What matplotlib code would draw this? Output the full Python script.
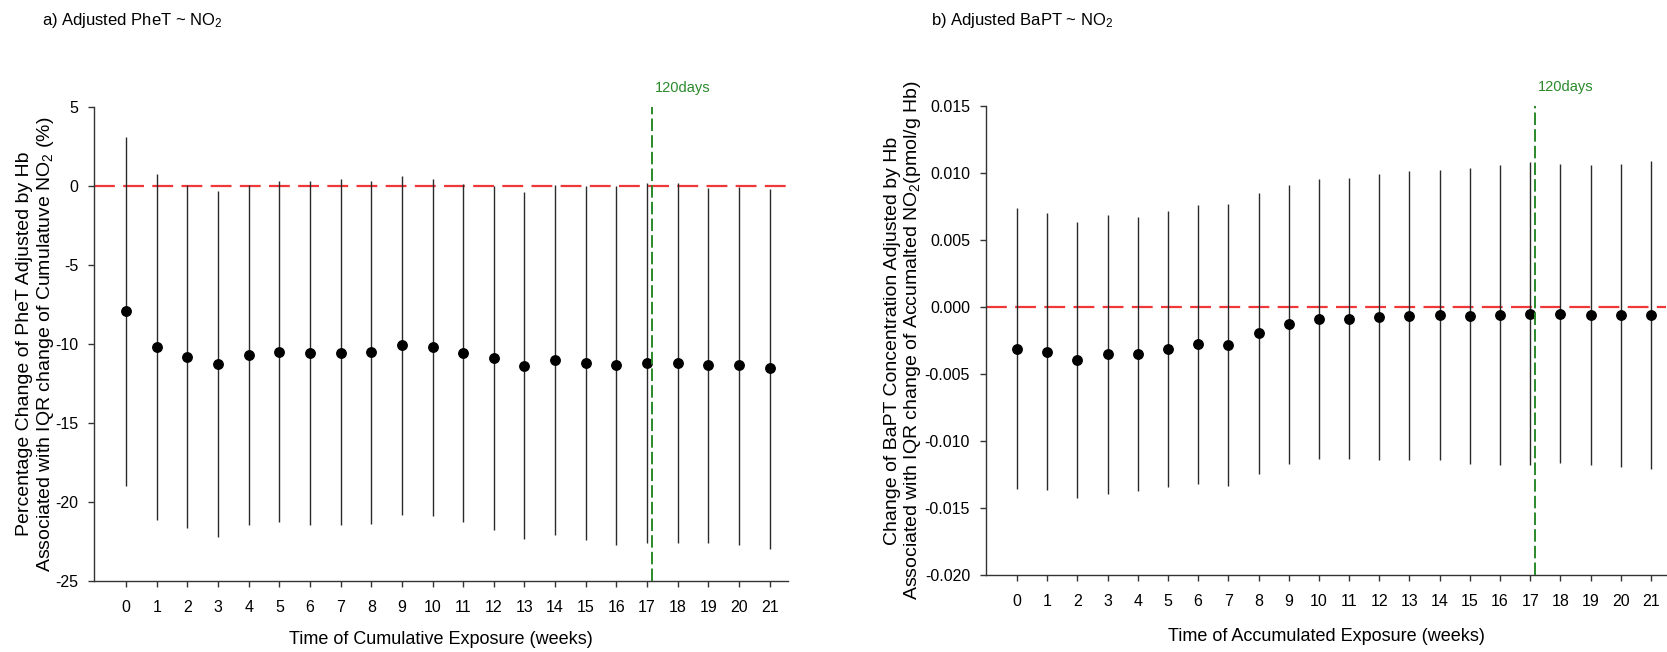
import matplotlib
matplotlib.use("Agg")
import matplotlib.pyplot as plt
import numpy as np

plt.rcParams['font.family'] = ['Liberation Sans', 'DejaVu Sans']
plt.rcParams['axes.unicode_minus'] = False
plt.rcParams['mathtext.fontset'] = 'custom'
plt.rcParams['mathtext.rm'] = 'Liberation Sans'
plt.rcParams['mathtext.it'] = 'Liberation Sans:italic'
plt.rcParams['lines.scale_dashes'] = False

weeks = list(range(22))

# Panel a: PheT
phet_est = [-7.92, -10.17, -10.80, -11.25, -10.70, -10.49, -10.57, -10.57, -10.53, -10.08, -10.19,
            -10.57, -10.91, -11.40, -11.04, -11.19, -11.34, -11.19, -11.19, -11.34, -11.32, -11.50]
phet_hi = [3.12, 0.79, 0.05, -0.32, 0.04, 0.32, 0.32, 0.42, 0.32, 0.66, 0.47,
           0.15, 0.00, -0.40, 0.04, 0.00, 0.00, 0.19, 0.19, -0.10, -0.05, -0.20]
phet_lo = [-18.99, -21.16, -21.67, -22.22, -21.48, -21.26, -21.48, -21.48, -21.37, -20.84, -20.90,
           -21.28, -21.80, -22.37, -22.11, -22.43, -22.69, -22.60, -22.58, -22.58, -22.70, -23.00]

# Panel b: BaPT
bapt_est = [-0.00313, -0.00333, -0.00398, -0.00353, -0.00348, -0.00311, -0.00279, -0.00284, -0.00197,
            -0.00129, -0.00090, -0.00087, -0.00072, -0.00065, -0.00062, -0.00067, -0.00057, -0.00050,
            -0.00050, -0.00062, -0.00062, -0.00060]
bapt_hi = [0.00736, 0.00701, 0.00634, 0.00689, 0.00672, 0.00719, 0.00764, 0.00771, 0.00851,
           0.00913, 0.00953, 0.00960, 0.00995, 0.01012, 0.01022, 0.01035, 0.01062, 0.01080,
           0.01065, 0.01057, 0.01065, 0.01092]
bapt_lo = [-0.01361, -0.01368, -0.01423, -0.01393, -0.01376, -0.01343, -0.01323, -0.01338, -0.01249,
           -0.01169, -0.01132, -0.01134, -0.01139, -0.01142, -0.01144, -0.01172, -0.01177, -0.01179,
           -0.01162, -0.01182, -0.01194, -0.01211]

marker_line = 17.15
marker_text = "120days"

fig = plt.figure(figsize=(16.67, 6.52), dpi=100)

axA = fig.add_axes([94/1667, (652-581)/652, 694/1667, 474/652])
axB = fig.add_axes([986/1667, (652-575)/652, 680/1667, 469/652])


def draw(ax, est, lo, hi, ylim, yticks, fmt, xlim):
    ax.vlines(weeks, lo, hi, color='#2a2a2a', lw=1.0, zorder=2)
    ax.plot(weeks, est, 'o', color='black', ms=6.8, zorder=3)
    ax.axhline(0, color='#f03838', lw=1.6, ls=(0, (15, 6)), zorder=1)
    ax.axvline(marker_line, color='#2a8a2a', lw=1.4, ls=(0, (9, 3)), zorder=4)
    ax.set_xlim(*xlim)
    ax.set_ylim(*ylim)
    ax.set_xticks(weeks)
    ax.set_xticklabels([str(w) for w in weeks])
    ax.set_yticks(yticks)
    ax.set_yticklabels([fmt(v) for v in yticks])
    for s in ['top', 'right']:
        ax.spines[s].set_visible(False)
    for s in ['left', 'bottom']:
        ax.spines[s].set_color('#333333')
        ax.spines[s].set_linewidth(1.0)
    ax.tick_params(axis='both', direction='out', length=4.5, width=1.0, color='#333333',
                   labelsize=11.5)
    ax.tick_params(axis='x', pad=9)
    ax.tick_params(axis='y', pad=7)
    ax.text(marker_line + 0.1, ylim[1] + (ylim[1]-ylim[0])*0.04, marker_text,
            color='#2a8a2a', fontsize=10.5, ha='left', va='center')


draw(axA, phet_est, phet_lo, phet_hi, (-25, 5), [5, 0, -5, -10, -15, -20, -25],
     lambda v: f"{v:d}", (-1.05, 21.6))
draw(axB, bapt_est, bapt_lo, bapt_hi, (-0.020, 0.015),
     [0.015, 0.010, 0.005, 0.000, -0.005, -0.010, -0.015, -0.020],
     lambda v: f"{v:.3f}", (-1.03, 21.5))

axA.set_ylabel("Percentage Change of PheT Adjusted by Hb\nAssociated with IQR change of Cumulatuve NO$_2$ (%)",
               fontsize=14, linespacing=1.15, va='center')
axA.yaxis.set_label_coords(-0.0836, 0.5)
axB.set_ylabel("Change of BaPT Concentration Adjusted by Hb\nAssociated with IQR change of Accumalted NO$_2$(pmol/g Hb)",
               fontsize=14, linespacing=1.1, va='center')
axB.yaxis.set_label_coords(-0.121, 0.5)

axA.set_xlabel("Time of Cumulative Exposure (weeks)", fontsize=13, va='center')
axA.xaxis.set_label_coords(0.5, -0.124)
axB.set_xlabel("Time of Accumulated Exposure (weeks)", fontsize=13, va='center')
axB.xaxis.set_label_coords(0.5, -0.132)

fig.text(42/1667, 1 - 20/652, "a) Adjusted PheT ~ NO$_2$", fontsize=12, ha='left', va='center')
fig.text(931/1667, 1 - 20/652, "b) Adjusted BaPT ~ NO$_2$", fontsize=12, ha='left', va='center')

fig.savefig("out.png", dpi=100)
